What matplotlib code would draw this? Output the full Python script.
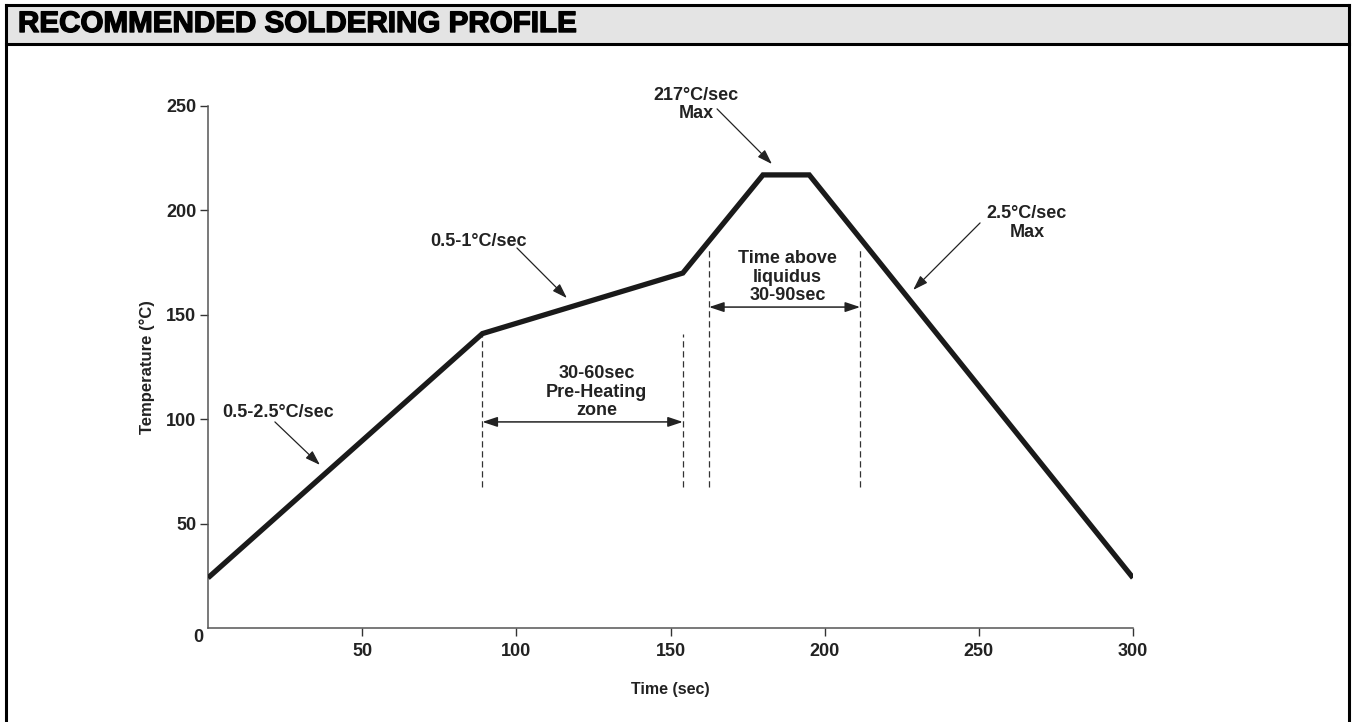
import matplotlib
matplotlib.use("Agg")
import matplotlib.pyplot as plt
from matplotlib.patches import Rectangle
import matplotlib.patheffects as pe

# ---- data ----
time_pts = [0, 89, 154, 180, 195, 300]
temp_pts = [24, 141, 170, 217, 217, 24]
x_ticks = [50, 100, 150, 200, 250, 300]
y_ticks = [50, 100, 150, 200, 250]
title = "RECOMMENDED SOLDERING PROFILE"
x_label = "Time (sec)"
y_label = "Temperature (°C)"

# dashed marker lines: (x, y_bottom, y_top)
dash_x = [89, 154, 162.5, 211.5]
dash_bottom = [67.5, 67.5, 67.5, 67.5]
dash_top = [141, 141, 182.5, 182.5]

# span arrows: (x0, x1, y)
span_x0 = [89, 162.5]
span_x1 = [154, 211.5]
span_y = [98.7, 153.7]
span_text = ["30-60sec\nPre-Heating\nzone", "Time above\nliquidus\n30-90sec"]
span_text_pos = [(126, 113), (188, 168)]

# callouts
call_text = ["0.5-2.5°C/sec", "0.5-1°C/sec", "217°C/sec\nMax", "2.5°C/sec\nMax"]
call_text_pos = [(22.7, 103.4), (87.6, 185.3), (158.3, 250.7), (265.6, 194)]
call_from = [(21.7, 98.7), (100.2, 182), (165.1, 248.6), (250.4, 194)]
call_to = [(36.3, 78.1), (116.4, 158), (182.9, 222.2), (228.7, 161.9)]

W, H = 1353, 722
fig = plt.figure(figsize=(W / 100, H / 100), dpi=100)
FONT = "Liberation Sans"
plt.rcParams["font.family"] = [FONT, "DejaVu Sans"]
FS = 13

# frame & title bar
fig.patches.append(Rectangle((6 / W, 1 - 44 / H), (1348 - 6) / W, 39 / H,
                             transform=fig.transFigure, facecolor="#e4e4e4",
                             edgecolor="none", zorder=0))
fig.add_artist(plt.Line2D([6 / W, 6 / W], [0, 1 - 5 / H], transform=fig.transFigure,
                          color="black", lw=2.2))
fig.add_artist(plt.Line2D([1349 / W, 1349 / W], [0, 1 - 5 / H], transform=fig.transFigure,
                          color="black", lw=2.2))
fig.add_artist(plt.Line2D([6 / W, 1349 / W], [1 - 5 / H, 1 - 5 / H], transform=fig.transFigure,
                          color="black", lw=2.2))
fig.add_artist(plt.Line2D([6 / W, 1349 / W], [1 - 44 / H, 1 - 44 / H], transform=fig.transFigure,
                          color="black", lw=2.2))
fig.text(18 / W, 1 - 32 / H, title, fontsize=21.3, fontweight="bold", color="black",
         va="baseline", ha="left", family=[FONT, "DejaVu Sans"],
         path_effects=[pe.withStroke(linewidth=1.0, foreground="black")])

ax = fig.add_axes([208 / W, 1 - 628 / H, (1133 - 208) / W, (628 - 106) / H])
ax.set_xlim(0, 300)
ax.set_ylim(0, 250)
for s in ["top", "right"]:
    ax.spines[s].set_visible(False)
for s in ["left", "bottom"]:
    ax.spines[s].set_color("#555555")
    ax.spines[s].set_linewidth(1.1)

ax.set_xticks(x_ticks)
ax.set_yticks(y_ticks)
ax.tick_params(axis="both", direction="out", length=6, width=1, color="#333333",
               labelsize=FS, labelcolor="#222222")
ax.tick_params(axis="x", pad=4.5)
ax.tick_params(axis="y", pad=2.5)
for lab in ax.get_xticklabels() + ax.get_yticklabels():
    lab.set_fontweight("bold")
ax.text(-1.5, -0.5, "0", ha="right", va="top", fontsize=FS, fontweight="bold",
        color="#222222", clip_on=False)

ax.set_xlabel(x_label, fontsize=11.5, fontweight="bold", color="#222222", labelpad=16)
ax.set_ylabel(y_label, fontsize=12, fontweight="bold", color="#222222", labelpad=8)

# profile curve
ax.plot(time_pts, temp_pts, color="#1a1a1a", lw=3.8, solid_joinstyle="miter",
        solid_capstyle="butt", zorder=5)

# dashed lines
for x, yb, yt in zip(dash_x, dash_bottom, dash_top):
    ax.plot([x, x], [yb, yt], color="#333333", lw=0.9, ls=(0, (5, 3)), zorder=3)

# span arrows
for x0, x1, y in zip(span_x0, span_x1, span_y):
    ax.annotate("", xy=(x0, y), xytext=(x1, y),
                arrowprops=dict(arrowstyle="<|-|>,head_length=0.9,head_width=0.3",
                                color="#222222", lw=1.1, shrinkA=0, shrinkB=0))
for t, (x, y) in zip(span_text, span_text_pos):
    ax.text(x, y, t, ha="center", va="center", fontsize=FS, fontweight="bold",
            color="#222222", linespacing=1.1)

# callouts
for t, (tx, ty), (fx, fy), (ex, ey) in zip(call_text, call_text_pos, call_from, call_to):
    ax.text(tx, ty, t, ha="center", va="center", fontsize=FS, fontweight="bold",
            color="#222222", linespacing=1.1)
    ax.annotate("", xy=(ex, ey), xytext=(fx, fy),
                arrowprops=dict(arrowstyle="-|>,head_length=0.9,head_width=0.3",
                                color="#222222", lw=0.9, shrinkA=0, shrinkB=0))

fig.savefig("out.png", dpi=100)
